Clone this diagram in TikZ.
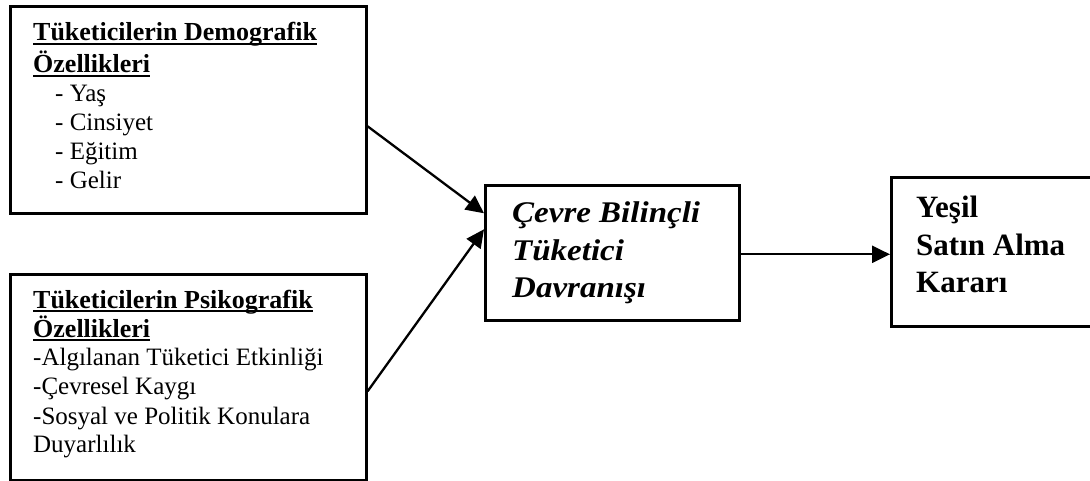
\documentclass[tikz,border=0pt]{standalone}
\usepackage{fontspec}
\setmainfont{Liberation Serif}
\newfontfamily\widefont{Liberation Serif}[FakeStretch=1.1]
\usetikzlibrary{arrows.meta}
\newsavebox\ulbox
\newcommand{\ulin}[1]{\sbox\ulbox{#1}\rlap{\rule[-4pt]{\wd\ulbox}{1.8pt}}\usebox\ulbox}
\begin{document}
\begin{tikzpicture}[x=1pt,y=-1pt,
  box/.style={draw,line width=2.6pt,inner sep=0pt,anchor=north west},
  txt/.style={anchor=base west,inner sep=0pt},
  arr/.style={line width=2.3pt,-{Triangle[length=18pt,width=17pt]}}]
\useasboundingbox (0,0) rectangle (1090,481);
\fill[white] (0,0) rectangle (1090,481);
% boxes
\node[box,minimum width=356pt,minimum height=207pt] (demo) at (9,5) {};
\node[box,minimum width=356pt,minimum height=206pt] (psiko) at (9,273) {};
\node[box,minimum width=254pt,minimum height=135pt] (cbt) at (484,184) {};
\node[box,minimum width=210pt,minimum height=149pt] (yesil) at (890,176) {};
% texts
\node[txt] (demotxt) at (33,41) {\fontsize{25}{29}\selectfont\vtop{%
  \hbox{\fontsize{26}{29}\selectfont\bfseries\ulin{Tüketicilerin Demografik}}\vskip3pt
  \hbox{\fontsize{26}{29}\selectfont\bfseries\ulin{Özellikleri}}
  \hbox{\hspace{22pt}- Yaş}
  \hbox{\hspace{22pt}- Cinsiyet}
  \hbox{\hspace{22pt}- Eğitim}
  \hbox{\hspace{22pt}- Gelir}}};
\node[txt] (psikotxt) at (33,308) {\fontsize{25}{29}\selectfont\vtop{%
  \hbox{\fontsize{26}{29}\selectfont\bfseries\ulin{Tüketicilerin Psikografik}}
  \hbox{\fontsize{26}{29}\selectfont\bfseries\ulin{Özellikleri}}
  \hbox{-Algılanan Tüketici Etkinliği}
  \hbox{-Çevresel Kaygı}
  \hbox{-Sosyal ve Politik Konulara}
  \hbox{Duyarlılık}}};
\node[txt] (cbttxt) at (512,223) {\widefont\fontsize{30}{37.5}\selectfont\bfseries\itshape\vtop{%
  \hbox{Çevre Bilinçli}
  \hbox{Tüketici}
  \hbox{Davranışı}}};
\node[txt] (yesiltxt) at (916,218) {\fontsize{31}{37.5}\selectfont\bfseries\vtop{%
  \hbox{Yeşil}
  \hbox{Satın Alma}
  \hbox{Kararı}}};
% arrows
\draw[arr] ([yshift=-16.5pt]demo.east) -- ([yshift=39.5pt]cbt.west);
\draw[arr] ([yshift=-14pt]psiko.east) -- ([yshift=23.5pt]cbt.west);
\draw[arr] ([yshift=-1.5pt]cbt.east) -- ([yshift=-1.5pt]cbt.east -| yesil.west);
\end{tikzpicture}
\end{document}
